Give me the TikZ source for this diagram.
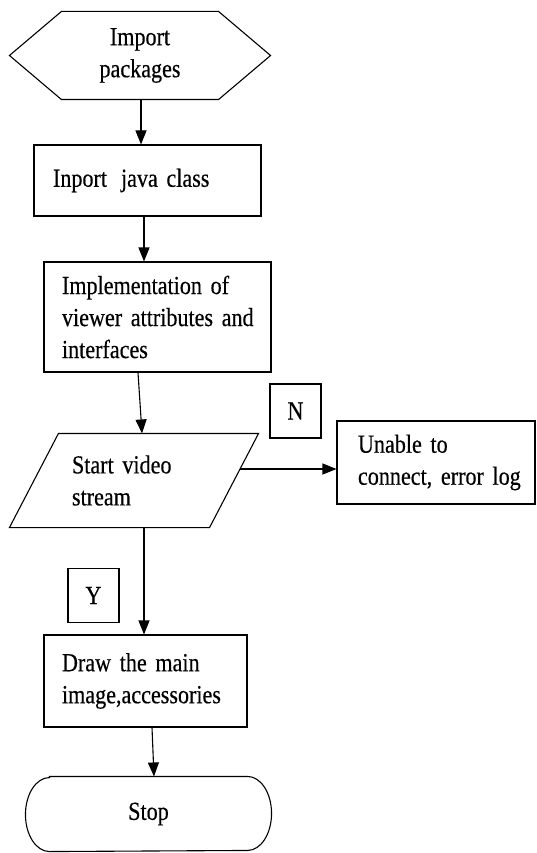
\documentclass[tikz,border=0pt]{standalone}
\usepackage{fontspec}
\setmainfont{Liberation Serif}[FakeStretch=0.85, FakeBold=0.4]
\usetikzlibrary{arrows.meta}
% node text: 26pt, tighter word spaces
\newcommand\chartfont{\fontsize{26}{32}\selectfont
  \spaceskip=3.2pt plus 1pt minus 1pt\relax
  \xspaceskip=3.6pt\relax}
\begin{document}
\begin{tikzpicture}[x=1pt,y=-1pt,
  line width=1.1pt,
  every node/.style={font=\chartfont, inner sep=0pt},
  boxnode/.style={draw, rectangle, align=left},
  ghost/.style={rectangle},
  tag/.style={draw, rectangle, minimum width=51pt, minimum height=54pt},
  arr/.style={-{Triangle[length=14pt,width=11pt]}}
]
% page frame
\fill[white] (0,0) rectangle (536,853);
\useasboundingbox (0,0) rectangle (536,853);

% start: hexagon
\node[ghost, minimum width=260pt, minimum height=87pt, align=center] (pkg) at (140,55.5) {Import\\packages};
\draw (pkg.west) -- ([xshift=52pt]pkg.north west) -- ([xshift=-52pt]pkg.north east)
  -- (pkg.east) -- ([xshift=-52pt]pkg.south east) -- ([xshift=52pt]pkg.south west) -- cycle;

% process boxes
\node[boxnode, minimum width=227pt, minimum height=71pt, text width=189pt] (cls) at (147.5,180.5)
  {\mbox{Inport\hspace{14pt}java class}\\[4pt]};
\node[boxnode, minimum width=227pt, minimum height=110pt, text width=191pt] (imp) at (157.5,317)
  {\mbox{Implementation of}\\ \mbox{viewer attributes and}\\ interfaces};

% input/output: video stream
\node[ghost, minimum width=248pt, minimum height=93pt, text width=124pt, align=left] (vid) at (134,480.5)
  {\mbox{Start video}\\ stream};
\draw ([xshift=49pt]vid.north west) -- (vid.north east) -- ([xshift=-49pt]vid.south east)
  -- (vid.south west) -- cycle;

\node[boxnode, minimum width=198pt, minimum height=83pt, text width=156pt] (err) at (436,462.5)
  {\mbox{Unable to}\\ \mbox{connect, error log}};

\node[boxnode, minimum width=203pt, minimum height=92pt, text width=167pt] (drw) at (145.5,681)
  {\mbox{Draw the main}\\ \mbox{image,accessories}};

% end: stop
\node[ghost, minimum width=245pt, minimum height=74pt] (stop) at (148.5,814) {Stop};
\draw ([xshift=24pt]stop.north west) -- ([xshift=-24pt]stop.north east)
  arc[start angle=90, end angle=-90, x radius=24pt, y radius=37pt]
  -- ([xshift=24pt]stop.south west)
  arc[start angle=270, end angle=90, x radius=24pt, y radius=37pt] -- cycle;

% decision tags
\node[tag] (no) at (295.5,411) {N};
\node[tag] (yes) at (93.5,595.5) {Y};

% connectors
\coordinate (vidout) at (239.5,469);
\draw[arr] ([xshift=1pt]pkg.south) -- ([xshift=-6.5pt]cls.north);
\draw[arr] ([xshift=-3.5pt]cls.south) -- ([xshift=-13.5pt]imp.north);
\draw[arr] ([xshift=-19.5pt]imp.south) -- ([xshift=8pt]vid.north);
\draw[arr] (vidout) -- (vidout -| err.west);
\draw[arr] ([xshift=10pt]vid.south) -- ([xshift=-1.5pt]drw.north);
\draw[arr] ([xshift=6.5pt]drw.south) -- ([xshift=5.5pt]stop.north);
\end{tikzpicture}
\end{document}
